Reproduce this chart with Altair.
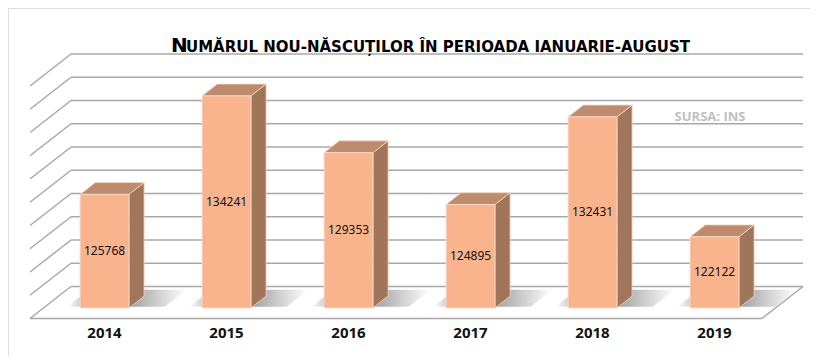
import altair as alt
import pandas as pd

# ---- data ----
years = ["2014", "2015", "2016", "2017", "2018", "2019"]
births = [125768, 134241, 129353, 124895, 132431, 122122]
grid_levels = [116000 + 2000 * k for k in range(11)]   # 116000 ... 136000
title_first = "N"
title_rest = "UMĂRUL NOU-NĂSCUȚILOR ÎN PERIOADA IANUARIE-AUGUST"
source_text = "SURSA: INS"

# ---- layout / 3D style parameters ----
W, H = 802, 348
V0, VMAX = 116000, 136000
X_ORIGIN, PX_PER_CAT = 63, 122          # plot-x of the back wall start, px per category
Y_FLOOR, Y_TOP = 278.5, 46              # plot-y of V0 and VMAX on the back wall
PX_PER_VAL = (Y_FLOOR - Y_TOP) / (VMAX - V0)
DEPTH_X_PX, DEPTH_Y_PX = 41, 32         # full floor depth in pixels
DX = DEPTH_X_PX / PX_PER_CAT
DY = DEPTH_Y_PX / PX_PER_VAL
TF, TB = 0.33, 0.70                      # bar front / back depth (0 = front, 1 = back wall)
GAP = 0.3
N = len(years)

XS = alt.Scale(domain=[(0 - X_ORIGIN) / PX_PER_CAT, (W - X_ORIGIN) / PX_PER_CAT], nice=False, zero=False)
YS = alt.Scale(domain=[V0 - (H - Y_FLOOR) / PX_PER_VAL, V0 + Y_FLOOR / PX_PER_VAL], nice=False, zero=False)


def px(u, t):
    return u - DX * (1 - t)


def py(v, t):
    return v - DY * (1 - t)


def X(f):
    return alt.X(f, type="quantitative", scale=XS, axis=None, stack=None)


def Y(f):
    return alt.Y(f, type="quantitative", scale=YS, axis=None, stack=None)


FRONT = "#F9B48E"
SIDE = "#A17559"
TOP = "#BF8B6E"
EDGE = "#F7D6C3"
GRID = "#A8A8A8"

# back wall grid lines
grid_df = pd.DataFrame({"y": grid_levels, "x": [px(0, 1)] * 11, "x2": [px(N, 1)] * 11})
grid = alt.Chart(grid_df).mark_rule(color=GRID, strokeWidth=1.5).encode(x=X("x"), x2="x2", y=Y("y"))

# left wall diagonals
diag_df = pd.DataFrame({
    "x": [px(0, 1)] * 11, "y": grid_levels,
    "x2": [px(0, 0)] * 11, "y2": [py(v, 0) for v in grid_levels],
})
diag = alt.Chart(diag_df).mark_rule(color=GRID, strokeWidth=1.5).encode(x=X("x"), y=Y("y"), x2="x2", y2="y2")

# floor edges (front and right)
edge_df = pd.DataFrame({
    "x": [px(0, 0), px(N, 0)], "y": [py(V0, 0), py(V0, 0)],
    "x2": [px(N, 0), px(N, 1)], "y2": [py(V0, 0), py(V0, 1)],
})
edges = alt.Chart(edge_df).mark_rule(color=GRID, strokeWidth=1.5).encode(x=X("x"), y=Y("y"), x2="x2", y2="y2")

SHADOW_FILL = alt.Gradient(
    gradient="linear", x1=0, x2=1, y1=0, y2=0,
    stops=[alt.GradientStop(color="#ffffff", offset=0),
           alt.GradientStop(color="#9a9a9a", offset=0.2),
           alt.GradientStop(color="#8f8f8f", offset=0.55),
           alt.GradientStop(color="#ffffff", offset=1)])

layers = [grid, diag, edges]
shadows, sides, tops = [], [], []
for i, (yr, v) in enumerate(zip(years, births)):
    # shadow on the floor
    sh = pd.DataFrame([{"y": py(V0, t), "x": px(i + GAP - 0.12, t), "x2": px(i + 1 - GAP + 0.28, t)}
                       for t in (0.37, 0.9)])
    shadows.append(alt.Chart(sh).mark_area(orient="horizontal", fill=SHADOW_FILL, fillOpacity=0.8).encode(
        y=Y("y"), x=X("x"), x2="x2"))
    # right side face
    sd = pd.DataFrame([{"x": px(i + 1 - GAP, t), "y": py(v, t), "y2": py(V0, t)} for t in (TF, TB)])
    sides.append(alt.Chart(sd).mark_area(orient="vertical", fill=SIDE, fillOpacity=1, stroke=EDGE,
                                         strokeWidth=0.8).encode(x=X("x"), y=Y("y"), y2="y2"))
    # top face
    tp = pd.DataFrame([{"y": py(v, t), "x": px(i + GAP, t), "x2": px(i + 1 - GAP, t)} for t in (TF, TB)])
    tops.append(alt.Chart(tp).mark_area(orient="horizontal", fill=TOP, fillOpacity=1, stroke=EDGE,
                                        strokeWidth=0.8).encode(y=Y("y"), x=X("x"), x2="x2"))
layers += shadows + sides + tops

# front faces + labels
front_df = pd.DataFrame({
    "year": years, "value": births,
    "x": [px(i + GAP, TF) for i in range(N)],
    "x2": [px(i + 1 - GAP, TF) for i in range(N)],
    "y": [py(v, TF) for v in births],
    "y2": [py(V0, TF)] * N,
    "xc": [px(i + 0.5, TF) for i in range(N)],
    "yc": [(py(v, TF) + py(V0, TF)) / 2 for v in births],
})
front = alt.Chart(front_df).mark_rect(fill=FRONT, fillOpacity=1, stroke=EDGE, strokeWidth=1).encode(
    x=X("x"), x2="x2", y=Y("y"), y2="y2")
vlabels = alt.Chart(front_df).mark_text(font="Noto Sans", fontSize=12, color="#111111").encode(
    x=X("xc"), y=Y("yc"), text="value:N")
ylabels = alt.Chart(front_df).mark_text(font="Noto Sans", fontSize=15, fontWeight="bold",
                                        color="#111111", baseline="middle").encode(
    x=X("xc"), y=alt.value(325), text="year:N")

txt_df = pd.DataFrame({"a": [title_first], "b": [title_rest], "c": [source_text]})
t1 = alt.Chart(txt_df).mark_text(font="DejaVu Sans", fontSize=20, fontWeight="bold", color="#000000",
                                 align="left", baseline="alphabetic").encode(
    x=alt.value(163), y=alt.value(44), text="a:N")
t2 = alt.Chart(txt_df).mark_text(font="DejaVu Sans", fontSize=15, fontWeight="bold", color="#000000",
                                 align="left", baseline="alphabetic").encode(
    x=alt.value(178), y=alt.value(44), text="b:N")
src = alt.Chart(txt_df).mark_text(font="Open Sans", fontSize=13, fontWeight="bold", color="#BFBFBF",
                                  align="center", baseline="middle").encode(
    x=alt.value(702), y=alt.value(109), text="c:N")

layers += [front, vlabels, ylabels, t1, t2, src]

chart = alt.layer(*layers).properties(
    width=W, height=H, padding=0, autosize="none"
).configure_view(stroke=None).configure(background="white")

chart.save("out.html", embed_options={"renderer": "svg", "actions": False})
